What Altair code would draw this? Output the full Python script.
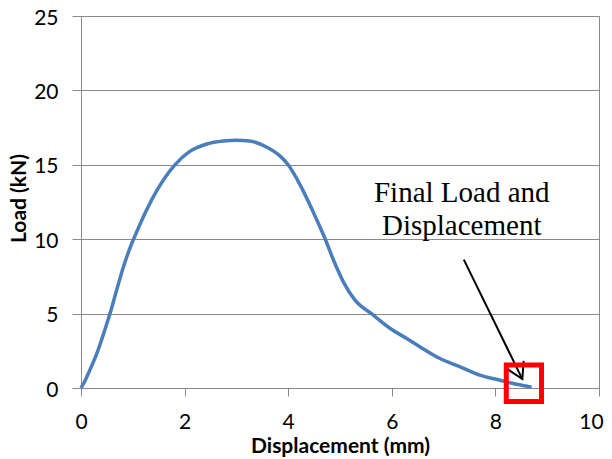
import altair as alt
import pandas as pd

# Curve: displacement (mm) vs load (kN)
disp = [0.0, 0.05, 0.17, 0.33, 0.46, 0.56, 0.69, 0.82, 0.95, 1.07, 1.25, 1.46, 1.8, 2.1,
        2.43, 2.75, 3.0, 3.25, 3.58, 3.84, 4.0, 4.23, 4.48, 4.71, 4.88, 5.07, 5.29, 5.62,
        5.97, 6.29, 6.54, 6.93, 7.32, 7.7, 8.09, 8.41, 8.7]
load = [0.0, 0.3, 1.2, 2.55, 3.9, 5.0, 6.6, 8.15, 9.45, 10.45, 11.85, 13.25, 14.95, 15.9,
        16.4, 16.6, 16.65, 16.6, 16.2, 15.6, 15.0, 13.65, 11.85, 10.05, 8.55, 7.1, 5.9, 4.96,
        4.0, 3.32, 2.78, 1.98, 1.42, 0.86, 0.52, 0.25, 0.05]

x_ticks = [0, 2, 4, 6, 8, 10]
y_ticks = [0, 5, 10, 15, 20, 25]

# Annotation
note_lines = ["Final Load and", "Displacement"]
note_x = [7.35, 7.35]
note_y = [12.5, 10.25]
arrow_from = [7.39, 8.63]
arrow_to = [8.52, 0.6]
box_x = [8.21, 8.89]
box_y = [1.55, -0.91]

curve_df = pd.DataFrame({"disp": disp, "load": load})
note_df = pd.DataFrame({"text": note_lines, "x": note_x, "y": note_y})
arrow_df = pd.DataFrame({"x": [arrow_from[0]], "y": [arrow_from[1]],
                         "x2": [arrow_to[0]], "y2": [arrow_to[1]]})
head_df = pd.DataFrame({"x": [arrow_to[0]], "y": [arrow_to[1]]})
box_df = pd.DataFrame({"x": [box_x[0]], "x2": [box_x[1]], "y": [box_y[0]], "y2": [box_y[1]]})

GRAY = "#898989"
xscale = alt.Scale(domain=[0, 10], nice=False, zero=False)
yscale = alt.Scale(domain=[0, 25], nice=False, zero=False)

line = alt.Chart(curve_df).mark_line(color="#4A7EBB", strokeWidth=3.5, interpolate="monotone").encode(
    x=alt.X("disp:Q", scale=xscale, axis=alt.Axis(
        values=x_ticks, title="Displacement (mm)", grid=False, tickSize=8,
        tickColor=GRAY, domainColor=GRAY, labelFont="Lato", labelFontSize=21,
        labelColor="black", labelPadding=15, labelFlush=False,
        labelOffset=alt.condition("datum.value == 10", alt.value(-8), alt.value(0)),
        titleFont="Lato", titleFontSize=21, titleFontWeight="bold", titleColor="black",
        titleY=64, titleBaseline="alphabetic")),
    y=alt.Y("load:Q", scale=yscale, axis=alt.Axis(
        values=y_ticks, title="Load (kN)", grid=True, gridColor=GRAY, tickSize=9,
        tickColor=GRAY, domainColor=GRAY, labelFont="Lato", labelFontSize=21,
        labelColor="black", labelPadding=14, labelOffset=2, labelFlush=False,
        titleFont="Lato", titleFontSize=21, titleFontWeight="bold", titleColor="black",
        titleX=-62, titleY=182, titleBaseline="middle")),
)

box = alt.Chart(box_df).mark_rect(fillOpacity=0, stroke="#FF0000", strokeWidth=5, clip=False).encode(
    x=alt.X("x:Q", scale=xscale), x2="x2:Q", y=alt.Y("y:Q", scale=yscale), y2="y2:Q")

arrow = alt.Chart(arrow_df).mark_rule(color="black", strokeWidth=2).encode(
    x=alt.X("x:Q", scale=xscale), y=alt.Y("y:Q", scale=yscale), x2="x2:Q", y2="y2:Q")

head = alt.Chart(head_df).mark_point(
    shape="M-1,-0.58L0,0L-1,0.58", filled=False, stroke="black", strokeWidth=2,
    size=1000, angle=64, opacity=1).encode(
    x=alt.X("x:Q", scale=xscale), y=alt.Y("y:Q", scale=yscale))

note = alt.Chart(note_df).mark_text(font="Liberation Serif", fontSize=29, color="black",
                                    align="center", baseline="alphabetic").encode(
    x=alt.X("x:Q", scale=xscale), y=alt.Y("y:Q", scale=yscale), text="text:N")

chart = alt.layer(line, arrow, head, box, note).properties(
    width=518, height=372,
    autosize=alt.AutoSizeParams(type="none"),
    padding={"left": 73, "top": 8, "right": 5, "bottom": 69},
).configure_view(stroke=GRAY, strokeWidth=1)

chart.save("out.html", embed_options={"renderer": "svg", "actions": False})
